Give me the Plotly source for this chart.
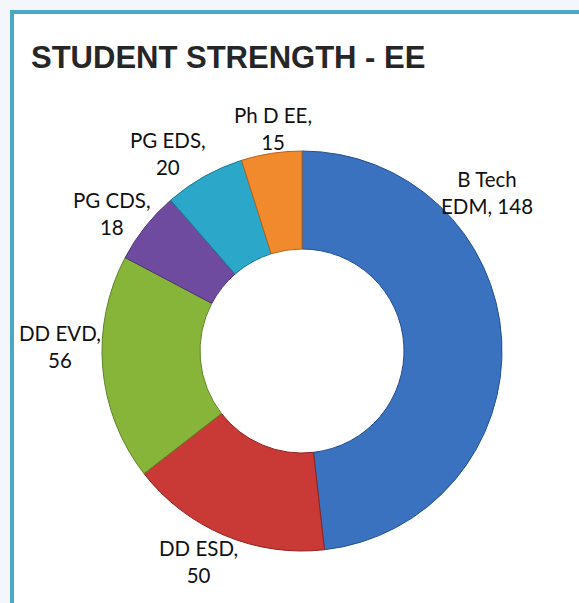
import plotly.graph_objects as go

# Programme enrolment, EE department
categories = ["B Tech<br>EDM", "DD ESD", "DD EVD", "PG CDS", "PG EDS", "Ph D EE"]
students = [148, 50, 56, 18, 20, 15]

slice_colors = ["#3A72C0", "#C93A36", "#86B53A", "#6F4BA0", "#2BA8C9", "#F08A2C"]
edge_colors = ["#22508F", "#8E2320", "#5E8326", "#4D3275", "#1B7A93", "#B8631A"]

# label anchor points (pixels from top-left of the 579x603 canvas)
label_px = [(487, 192), (198, 561), (60, 346), (112, 214), (168, 153), (273, 128)]

W, H = 579, 603


def label_text(cat, val):
    if "<br>" in cat:
        return f"{cat}, {val}"
    return f"{cat},<br>{val}"


fig = go.Figure(
    go.Pie(
        labels=categories,
        values=students,
        hole=0.51,
        sort=False,
        direction="clockwise",
        rotation=0,
        textinfo="none",
        marker=dict(colors=slice_colors, line=dict(color=edge_colors, width=1)),
        domain=dict(x=[102 / W, 502 / W], y=[1 - 551 / H, 1 - 151 / H]),
        showlegend=False,
        hoverinfo="label+value",
    )
)

annotations = [
    dict(
        text=label_text(c, v),
        x=px / W,
        y=1 - py / H,
        xref="paper",
        yref="paper",
        xanchor="center",
        yanchor="middle",
        showarrow=False,
        align="center",
        font=dict(family="Lato, Open Sans, sans-serif", size=20.5, color="#111111"),
    )
    for c, v, (px, py) in zip(categories, students, label_px)
]

annotations.append(
    dict(
        text="<b>STUDENT STRENGTH - EE</b>",
        x=29 / W,
        y=1 - 57 / H,
        xref="paper",
        yref="paper",
        xanchor="left",
        yanchor="middle",
        showarrow=False,
        font=dict(family="Liberation Sans, Arial, sans-serif", size=31, color="#262626"),
    )
)

fig.update_layout(
    width=W,
    height=H,
    margin=dict(l=0, r=0, t=0, b=0),
    paper_bgcolor="#F3F7FB",
    plot_bgcolor="white",
    annotations=annotations,
    shapes=[
        dict(
            type="rect",
            xref="paper",
            yref="paper",
            x0=12 / W,
            x1=1.05,
            y0=-0.05,
            y1=1 - 12 / H,
            fillcolor="white",
            line=dict(color="#4BA8C4", width=4),
            layer="below",
        )
    ],
)

fig.write_html("out.html")
